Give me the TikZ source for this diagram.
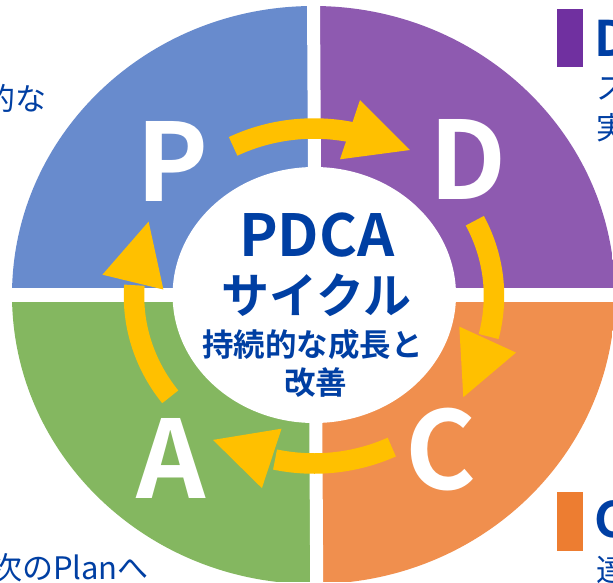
\documentclass[tikz,border=0pt]{standalone}
\usepackage{fontspec}
\setmainfont{Noto Sans CJK JP}[BoldFont={Noto Sans CJK JP Bold}]
\definecolor{qblue}{RGB}{104,139,205}
\definecolor{qpurple}{RGB}{142,90,176}
\definecolor{qgreen}{RGB}{132,183,96}
\definecolor{qorange}{RGB}{240,143,78}
\definecolor{ayellow}{RGB}{255,192,0}
\definecolor{dkblue}{RGB}{0,63,163}
\definecolor{lgpurple}{RGB}{112,48,160}
\definecolor{lgorange}{RGB}{237,125,49}
\begin{document}
\begin{tikzpicture}[x=1pt,y=-1pt,
  bigletter/.style={text=white,font=\bfseries\fontsize{108}{108}\selectfont,inner sep=0pt,anchor=center},
  ttl/.style={text=dkblue,font=\bfseries\fontsize{58}{58}\selectfont,inner sep=0pt,anchor=center},
  cyc/.style={text=dkblue,font=\bfseries\fontsize{48}{48}\selectfont,inner sep=0pt,anchor=center},
  subt/.style={text=dkblue,font=\bfseries\fontsize{31.5}{31.5}\selectfont,inner sep=0pt,anchor=center},
  lgletter/.style={text=dkblue,font=\bfseries\fontsize{49}{49}\selectfont,inner sep=0pt,anchor=west},
  note/.style={text=dkblue,font=\fontsize{31}{31}\selectfont,inner sep=0pt},
  shaft/.style={draw=ayellow,line width=20.5pt},
  headtri/.style={fill=ayellow}]
\useasboundingbox[fill=white] (0,0) rectangle (613,582);
% quadrants
\begin{scope}
  \clip (313.5,295) ellipse [x radius=301.5, y radius=289];
  \fill[qblue] (0,0) rectangle (315,295);
  \fill[qpurple] (315,0) rectangle (613,295);
  \fill[qgreen] (0,295) rectangle (315,582);
  \fill[qorange] (315,295) rectangle (613,582);
\end{scope}
\fill[white] (307,0) -- (320,0) -- (323.2,582) -- (310.2,582) -- cycle;
\fill[white] (0,288.3) rectangle (613,301.7);
\fill[white] (314.3,295) ellipse [x radius=141.7, y radius=128];
% arrows
\draw[shaft] plot[domain=-116.7:-77.5, samples=40, variable=\t] ({314+180*cos(\t)},{296+167.5*sin(\t)});
\fill[headtri] (360,100) -- (410,150) -- (340,159.3) -- cycle;
\draw[shaft] plot[domain=-26.7:14, samples=40, variable=\t] ({314+180*cos(\t)},{296+167.5*sin(\t)});
\fill[headtri] (459.3,326.6) -- (516,352.6) -- (463.3,397.2) -- cycle;
\draw[shaft] plot[domain=64.4:102.5, samples=40, variable=\t] ({314+180*cos(\t)},{296+167.5*sin(\t)});
\fill[headtri] (281.5,428.7) -- (213,439.9) -- (261.9,488.1) -- cycle;
\draw[shaft] plot[domain=143:183.7, samples=40, variable=\t] ({314+180*cos(\t)},{296+167.5*sin(\t)});
\fill[headtri] (102.4,274.7) -- (148.6,221.6) -- (163.4,289.5) -- cycle;
% big letters
\node[bigletter] (P) at (172.5,161.2) {P};
\node[bigletter] (D) at (468,159.6) {D};
\node[bigletter] (C) at (440.8,450) {C};
\node[bigletter] (A) at (171,458.5) {A};
% centre
\node[ttl] (pdca) at (316.7,234.6) {PDCA};
\node[cyc] (cycle) at (316.6,295) {サイクル};
\node[subt] (growth) at (312.4,345) {持続的な成長と};
\node[subt] (kaizen) at (315.9,382.3) {改善};
% side texts
\node[note,anchor=east] (topleft) at (47,98.5) {的な};
\node[note,anchor=base east] (botleft) at (149,579) {次のPlanへ};
\fill[lgpurple] (557,9) rectangle (583,67);
\node[lgletter] (lgD) at (594,38.7) {D};
\node[note,anchor=west] (lgD1) at (596.5,89) {ス};
\node[note,anchor=west] (lgD2) at (596.5,127.5) {実};
\fill[lgorange] (557,492) rectangle (583,551);
\node[lgletter] (lgC) at (594,519) {C};
\node[note,anchor=west] (lgC1) at (596.5,570) {達};
\end{tikzpicture}
\end{document}
